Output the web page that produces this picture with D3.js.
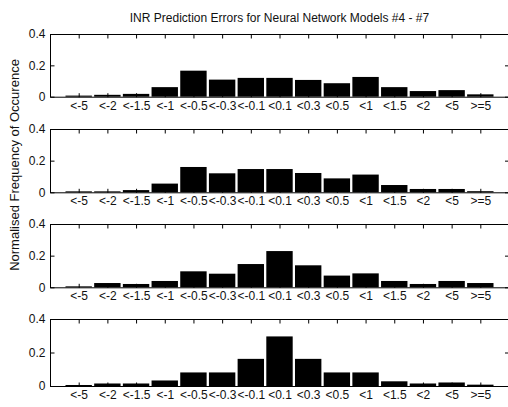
<!DOCTYPE html>
<html>
<head>
<meta charset="utf-8">
<script src="https://cdn.jsdelivr.net/npm/d3@7"></script>
<style>
  body { margin:0; background:#fff; }
  svg { display:block; }
  text { font-family: "Liberation Sans", Arial, sans-serif; fill:#111; }
</style>
</head>
<body>
<div id="plot"></div>
<script>
// error bins (INR prediction error)
var categories = ['<-5','<-2','<-1.5','<-1','<-0.5','<-0.3','<-0.1','<0.1','<0.3','<0.5','<1','<1.5','<2','<5','>=5'];

// normalised frequency for each model
var model4 = [0.007,0.012,0.018,0.061,0.166,0.109,0.12,0.12,0.107,0.086,0.126,0.061,0.036,0.042,0.015];
var model5 = [0.006,0.006,0.014,0.055,0.16,0.12,0.147,0.147,0.122,0.088,0.112,0.046,0.021,0.021,0.007];
var model6 = [0.006,0.027,0.021,0.04,0.101,0.086,0.147,0.229,0.139,0.074,0.088,0.04,0.021,0.04,0.027];
var model7 = [0.006,0.015,0.015,0.033,0.081,0.081,0.162,0.296,0.162,0.081,0.081,0.028,0.015,0.021,0.008];

var yTicks = [0, 0.2, 0.4];
var titleText = 'INR Prediction Errors for Neural Network Models #4 - #7';
var yLabelText = 'Normalised Frequency of Occurence';

var W = 508, H = 407;
var m = {l:50, r:-1};

// subplot boxes (top, bottom) -- last one is a bit taller, like the original
var panels = [
  {data:model4, top:34,  bottom:96.7},
  {data:model5, top:129, bottom:192.3},
  {data:model6, top:224, bottom:287.3},
  {data:model7, top:319, bottom:386}
];

var svg = d3.select('#plot').append('svg')
  .attr('width', W)
  .attr('height', H);

var x = d3.scaleLinear().domain([0, categories.length + 1]).range([m.l, W - m.r]);
var barW = 0.92 * (x(1) - x(0));

panels.forEach(function(p){
  var y = d3.scaleLinear().domain([0, 0.4]).range([p.bottom, p.top]);
  var g = svg.append('g');

  g.selectAll('rect.bar')
    .data(p.data)
    .enter().append('rect')
    .attr('class','bar')
    .attr('x', function(d,i){ return x(i+1) - barW/2; })
    .attr('width', barW)
    .attr('y', function(d){ return y(d); })
    .attr('height', function(d){ return y(0) - y(d); })
    .style('fill','#000');

  // frame
  g.append('rect')
    .attr('x', x.range()[0] + 0.5)
    .attr('y', p.top + 0.5)
    .attr('width', x.range()[1] - x.range()[0])
    .attr('height', p.bottom - p.top)
    .style('fill','none')
    .style('stroke','#000');

  // y axis left (ticks inward)
  var yl = g.append('g')
    .attr('transform','translate(' + (x.range()[0] + 0.5) + ',0)')
    .call(d3.axisLeft(y).tickValues(yTicks).tickSize(-4).tickPadding(5)
      .tickFormat(function(d){ return d === 0 ? '0' : d3.format('.1f')(d); }));
  yl.select('.domain').remove();
  yl.selectAll('text').style('font-size','12px');

  // right side ticks
  var yr = g.append('g')
    .attr('transform','translate(' + (x.range()[1]) + ',0)')
    .call(d3.axisRight(y).tickValues(yTicks).tickSize(-4).tickFormat(''));
  yr.select('.domain').remove();

  // top ticks
  var xt = g.append('g')
    .attr('transform','translate(0,' + (p.top + 0.5) + ')')
    .call(d3.axisTop(x).tickValues(d3.range(1, categories.length + 1)).tickSize(-4).tickFormat(''));
  xt.select('.domain').remove();

  // bottom ticks + labels
  var xb = g.append('g')
    .attr('transform','translate(0,' + (p.bottom + 0.5) + ')')
    .call(d3.axisBottom(x).tickValues(d3.range(1, categories.length + 1)).tickSize(-4).tickPadding(4)
      .tickFormat(function(d){ return categories[d-1]; }));
  xb.select('.domain').remove();
  xb.selectAll('text').style('font-size','12px');
  g.selectAll('.tick line').style('stroke','#000');
});

svg.append('text')
  .attr('x', (x.range()[0] + x.range()[1]) / 2)
  .attr('y', 22)
  .attr('text-anchor','middle')
  .style('font-size','12px')
  .text(titleText);

svg.append('text')
  .attr('transform','translate(19,165) rotate(-90)')
  .attr('text-anchor','middle')
  .style('font-size','13px')
  .text(yLabelText);
</script>
</body>
</html>
